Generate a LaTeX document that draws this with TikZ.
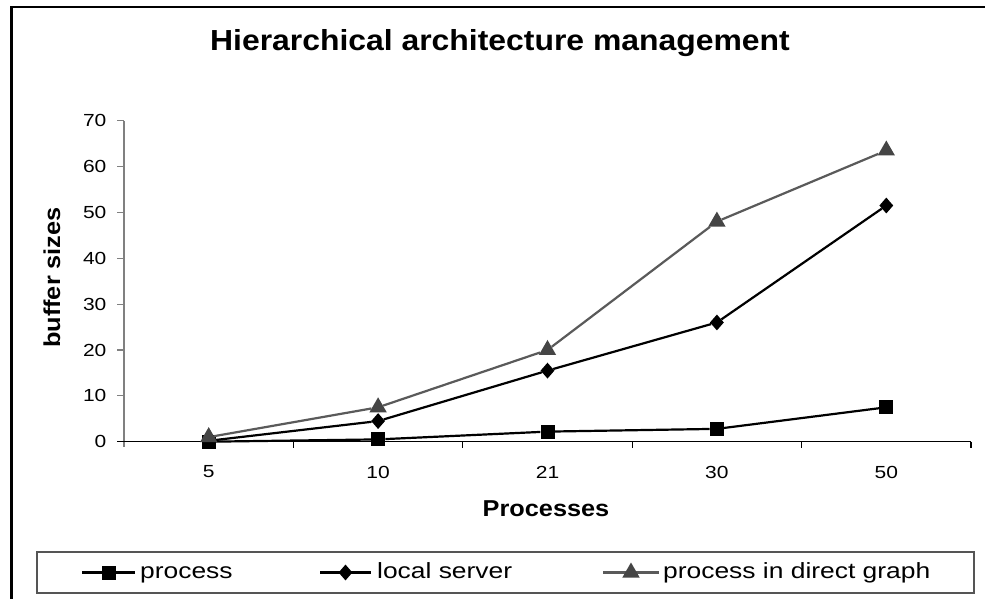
\documentclass[tikz,border=0pt]{standalone}
\usepackage{fontspec}
\setmainfont{Liberation Sans}[FakeStretch=1.2, BoldFeatures={FakeStretch=1.1}]
\usetikzlibrary{positioning, shapes.geometric}
\definecolor{graphGray}{HTML}{5A5A5A}
\definecolor{markGray}{HTML}{454545}
\definecolor{axisGray}{HTML}{808080}
\definecolor{legendGray}{HTML}{555555}
\tikzset{
    x=1pt, y=1pt, % one unit is one pixel of the chart
    procMark/.style={rectangle, fill=black, inner sep=0pt, minimum size=14pt}, % square marker
    serverMark/.style={diamond, fill=black, inner sep=0pt, minimum width=14pt, minimum height=16pt}, % diamond marker
    graphMark/.style={regular polygon, regular polygon sides=3, fill=markGray, inner sep=0pt, minimum size=20pt}, % triangle marker
    seriesLine/.style={line width=2.2pt, line join=round},
    tickLabel/.style={font=\fontsize{17.5}{20}\selectfont, inner sep=0pt, text=black},
    axisTitle/.style={font=\bfseries\fontsize{23}{28}\selectfont, inner sep=0pt},
    legendText/.style={font=\fontsize{22}{26}\selectfont, inner sep=0pt, text height=16pt, text depth=4.6pt},
}
\begin{document}
\begin{tikzpicture}
    \useasboundingbox[fill=white] (0,0) rectangle (985,598);
    % frame of the chart, it runs on past the page at the right and bottom
    \draw[line width=2.6pt] (11.5,-20) rectangle (1010,591);
    \node[font=\bfseries\fontsize{29}{34}\selectfont, inner sep=0pt] (title) at (500,554.5) {Hierarchical architecture management};
    \node[axisTitle, rotate=90] (yTitle) at (52,320.5) {buffer sizes};
    \node[axisTitle] (xTitle) at (546,89.5) {Processes};
    \begin{scope}[shift={(124,156.3)}, x=169.4pt, y=4.586pt]
        % axes and ticks
        \draw[axisGray, line width=1.4pt] (0,-1.1) -- (0,70);
        \foreach \v in {0,10,...,70}
            \draw[axisGray, line width=1.2pt] (0,\v) -- ++(-7pt,0pt) node[tickLabel, left=10pt] (yLab\v) {\v};
        \draw[line width=1.2pt] (0,0) ++(-7pt,0pt) -- (5,0);
        \foreach \k in {1,...,5}
            \draw[line width=1.2pt] (\k,0) -- ++(0pt,-6pt);
        \foreach \p [count=\i] in {5,10,21,30,50}
            \node[tickLabel, below=24pt] (xLab\p) at (\i-0.5,0) {\p};

        % process
        \node[procMark] (p1) at (0.5,0) {};
        \node[procMark] (p2) at (1.5,0.5) {};
        \node[procMark] (p3) at (2.5,2.2) {};
        \node[procMark] (p4) at (3.5,2.8) {};
        \node[procMark] (p5) at (4.5,7.5) {};
        \draw[seriesLine] (p1) -- (p2) -- (p3) -- (p4) -- (p5);
        % local server
        \node[serverMark] (s1) at (0.5,0.2) {};
        \node[serverMark] (s2) at (1.5,4.5) {};
        \node[serverMark] (s3) at (2.5,15.5) {};
        \node[serverMark] (s4) at (3.5,26) {};
        \node[serverMark] (s5) at (4.5,51.5) {};
        \draw[seriesLine] (s1) -- (s2) -- (s3) -- (s4) -- (s5);
        % process in direct graph
        \node[graphMark] (g1) at (0.5,1) {};
        \node[graphMark] (g2) at (1.5,7.5) {};
        \node[graphMark] (g3) at (2.5,20) {};
        \node[graphMark] (g4) at (3.5,48) {};
        \node[graphMark] (g5) at (4.5,63.5) {};
        \draw[seriesLine, graphGray] (g1) -- (g2) -- (g3) -- (g4) -- (g5);
    \end{scope}

    % legend
    \draw[legendGray, line width=1.4pt] (37,5) rectangle (974,46);
    \coordinate (lpA) at (82,25.5);
    \coordinate (lpB) at (135,25.5);
    \draw[seriesLine] (lpA) -- (lpB);
    \node[procMark] (lpMark) at (108.5,25.5) {};
    \node[legendText, right=5pt of lpB] (lpText) {process};
    \coordinate (lsA) at (320,25.5);
    \coordinate (lsB) at (371,25.5);
    \draw[seriesLine] (lsA) -- (lsB);
    \node[serverMark] (lsMark) at (345.5,25.5) {};
    \node[legendText, right=6pt of lsB] (lsText) {local server};
    \coordinate (lgA) at (603,25.5);
    \coordinate (lgB) at (659,25.5);
    \draw[seriesLine, graphGray] (lgA) -- (lgB);
    \node[graphMark] (lgMark) at (631,25.5) {};
    \node[legendText, right=4pt of lgB] (lgText) {process in direct graph};
\end{tikzpicture}
\end{document}
